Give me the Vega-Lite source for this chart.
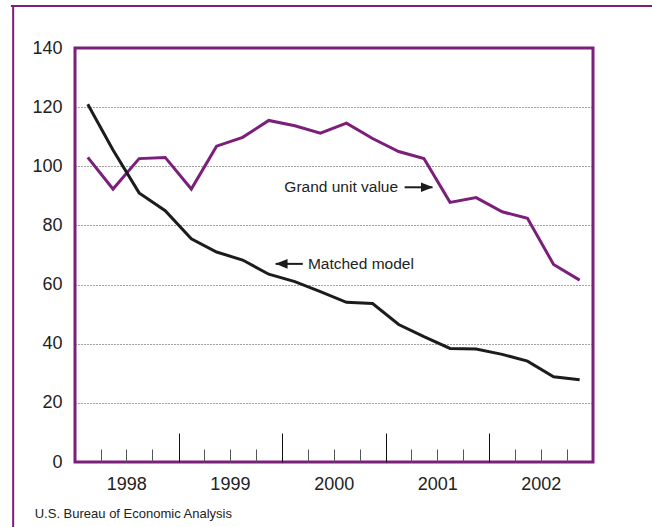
{
  "$schema": "https://vega.github.io/schema/vega-lite/v6.json",
  "width": 518,
  "height": 414,
  "autosize": {"type": "none"},
  "padding": {"left": 75, "top": 48, "right": 59, "bottom": 65},
  "background": "white",
  "config": {
    "view": {"stroke": "#7b1f7b", "strokeWidth": 3},
    "font": "Liberation Sans",
    "axis": {"labelFont": "Liberation Sans", "labelColor": "#222"}
  },
  "datasets": {
    "series": [
      {"date": "1998-02-15", "series": "Grand unit value", "value": 103.0},
      {"date": "1998-05-15", "series": "Grand unit value", "value": 92.3},
      {"date": "1998-08-15", "series": "Grand unit value", "value": 102.6},
      {"date": "1998-11-15", "series": "Grand unit value", "value": 103.0},
      {"date": "1999-02-15", "series": "Grand unit value", "value": 92.3},
      {"date": "1999-05-15", "series": "Grand unit value", "value": 106.8},
      {"date": "1999-08-15", "series": "Grand unit value", "value": 109.8},
      {"date": "1999-11-15", "series": "Grand unit value", "value": 115.5},
      {"date": "2000-02-15", "series": "Grand unit value", "value": 113.7},
      {"date": "2000-05-15", "series": "Grand unit value", "value": 111.2},
      {"date": "2000-08-15", "series": "Grand unit value", "value": 114.6},
      {"date": "2000-11-15", "series": "Grand unit value", "value": 109.4},
      {"date": "2001-02-15", "series": "Grand unit value", "value": 105.0},
      {"date": "2001-05-15", "series": "Grand unit value", "value": 102.6},
      {"date": "2001-08-15", "series": "Grand unit value", "value": 87.8},
      {"date": "2001-11-15", "series": "Grand unit value", "value": 89.4},
      {"date": "2002-02-15", "series": "Grand unit value", "value": 84.6},
      {"date": "2002-05-15", "series": "Grand unit value", "value": 82.4},
      {"date": "2002-08-15", "series": "Grand unit value", "value": 66.8},
      {"date": "2002-11-15", "series": "Grand unit value", "value": 61.5},
      {"date": "1998-02-15", "series": "Matched model", "value": 121.0},
      {"date": "1998-05-15", "series": "Matched model", "value": 105.5},
      {"date": "1998-08-15", "series": "Matched model", "value": 91.0},
      {"date": "1998-11-15", "series": "Matched model", "value": 85.0},
      {"date": "1999-02-15", "series": "Matched model", "value": 75.5},
      {"date": "1999-05-15", "series": "Matched model", "value": 71.0},
      {"date": "1999-08-15", "series": "Matched model", "value": 68.3},
      {"date": "1999-11-15", "series": "Matched model", "value": 63.5},
      {"date": "2000-02-15", "series": "Matched model", "value": 61.0},
      {"date": "2000-05-15", "series": "Matched model", "value": 57.6},
      {"date": "2000-08-15", "series": "Matched model", "value": 54.0},
      {"date": "2000-11-15", "series": "Matched model", "value": 53.6},
      {"date": "2001-02-15", "series": "Matched model", "value": 46.5},
      {"date": "2001-05-15", "series": "Matched model", "value": 42.4},
      {"date": "2001-08-15", "series": "Matched model", "value": 38.4},
      {"date": "2001-11-15", "series": "Matched model", "value": 38.2},
      {"date": "2002-02-15", "series": "Matched model", "value": 36.4},
      {"date": "2002-05-15", "series": "Matched model", "value": 34.1},
      {"date": "2002-08-15", "series": "Matched model", "value": 28.8},
      {"date": "2002-11-15", "series": "Matched model", "value": 27.8}
    ]
  },
  "resolve": {"axis": {"x": "independent", "y": "independent"}},
  "layer": [
    {
      "data": {"name": "series"},
      "mark": {"type": "line", "strokeWidth": 3},
      "encoding": {
        "x": {
          "field": "date",
          "type": "temporal",
          "scale": {"domain": [{"year": 1998, "month": 1, "date": 1, "utc": true}, {"year": 2003, "month": 1, "date": 1, "utc": true}]},
          "axis": {
            "orient": "bottom",
            "title": null,
            "domain": false,
            "grid": false,
            "values": [
              {"year": 1998, "month": 4, "date": 1, "utc": true}, {"year": 1998, "month": 7, "date": 1, "utc": true}, {"year": 1998, "month": 10, "date": 1, "utc": true},
              {"year": 1999, "month": 4, "date": 1, "utc": true}, {"year": 1999, "month": 7, "date": 1, "utc": true}, {"year": 1999, "month": 10, "date": 1, "utc": true},
              {"year": 2000, "month": 4, "date": 1, "utc": true}, {"year": 2000, "month": 7, "date": 1, "utc": true}, {"year": 2000, "month": 10, "date": 1, "utc": true},
              {"year": 2001, "month": 4, "date": 1, "utc": true}, {"year": 2001, "month": 7, "date": 1, "utc": true}, {"year": 2001, "month": 10, "date": 1, "utc": true},
              {"year": 2002, "month": 4, "date": 1, "utc": true}, {"year": 2002, "month": 7, "date": 1, "utc": true}, {"year": 2002, "month": 10, "date": 1, "utc": true}
            ],
            "tickSize": -13,
            "tickColor": "#555",
            "tickWidth": 1,
            "labelExpr": "utcmonth(datum.value) == 6 ? '' + utcyear(datum.value) : ''",
            "labelFontSize": 18,
            "labelPadding": 26,
            "labelOverlap": false,
            "labelFlush": false,
            "labelBound": false
          }
        },
        "y": {
          "field": "value",
          "type": "quantitative",
          "scale": {"domain": [0, 140]},
          "axis": {
            "title": null,
            "domain": false,
            "ticks": false,
            "values": [0, 20, 40, 60, 80, 100, 120, 140],
            "labelFontSize": 18,
            "labelPadding": 13,
            "grid": true,
            "gridColor": "#444",
            "gridDash": [1, 2],
            "gridWidth": 1,
            "gridOpacity": {"condition": {"test": "datum.value == 0 || datum.value == 140", "value": 0}, "value": 1}
          }
        },
        "color": {
          "field": "series",
          "type": "nominal",
          "scale": {"domain": ["Grand unit value", "Matched model"], "range": ["#7b1f7b", "#1c1c1c"]},
          "legend": null
        }
      }
    },
    {
      "data": {"values": [{}]},
      "mark": {"type": "rule", "strokeWidth": 2, "color": "#1c1c1c"},
      "encoding": {
        "x": {
          "datum": {"year": 2001, "month": 3, "date": 8, "utc": true},
          "type": "temporal",
          "axis": {
            "orient": "bottom",
            "title": null,
            "domain": false,
            "grid": false,
            "labels": false,
            "values": [
              {"year": 1999, "month": 1, "date": 1, "utc": true},
              {"year": 2000, "month": 1, "date": 1, "utc": true},
              {"year": 2001, "month": 1, "date": 1, "utc": true},
              {"year": 2002, "month": 1, "date": 1, "utc": true}
            ],
            "tickSize": -29,
            "tickColor": "#111",
            "tickWidth": 1
          }
        },
        "x2": {"datum": {"year": 2001, "month": 6, "date": 14, "utc": true}},
        "y": {"datum": 92.9, "type": "quantitative", "axis": null}
      }
    },
    {
      "data": {"values": [{}]},
      "mark": {"type": "point", "shape": "M0,0L-2,-0.8L-2,0.8Z", "filled": true, "size": 144, "color": "#1c1c1c", "opacity": 1},
      "encoding": {
        "x": {"datum": {"year": 2001, "month": 6, "date": 16, "utc": true}, "type": "temporal", "axis": null},
        "y": {"datum": 92.9, "type": "quantitative", "axis": null}
      }
    },
    {
      "data": {"values": [{}]},
      "mark": {"type": "text", "text": "Grand unit value", "align": "right", "baseline": "middle", "fontSize": 15.5, "color": "#222"},
      "encoding": {
        "x": {"datum": {"year": 2001, "month": 2, "date": 13, "utc": true}, "type": "temporal", "axis": null},
        "y": {"datum": 93, "type": "quantitative", "axis": null}
      }
    },
    {
      "data": {"values": [{}]},
      "mark": {"type": "rule", "strokeWidth": 2, "color": "#1c1c1c"},
      "encoding": {
        "x": {"datum": {"year": 1999, "month": 12, "date": 9, "utc": true}, "type": "temporal", "axis": null},
        "x2": {"datum": {"year": 2000, "month": 3, "date": 14, "utc": true}},
        "y": {"datum": 67, "type": "quantitative", "axis": null}
      }
    },
    {
      "data": {"values": [{}]},
      "mark": {"type": "point", "shape": "M0,0L2,-0.8L2,0.8Z", "filled": true, "size": 144, "color": "#1c1c1c", "opacity": 1},
      "encoding": {
        "x": {"datum": {"year": 1999, "month": 12, "date": 9, "utc": true}, "type": "temporal", "axis": null},
        "y": {"datum": 67, "type": "quantitative", "axis": null}
      }
    },
    {
      "data": {"values": [{}]},
      "mark": {"type": "text", "text": "Matched model", "align": "left", "baseline": "middle", "fontSize": 15.5, "color": "#222"},
      "encoding": {
        "x": {"datum": {"year": 2000, "month": 4, "date": 1, "utc": true}, "type": "temporal", "axis": null},
        "y": {"datum": 67, "type": "quantitative", "axis": null}
      }
    },
    {
      "data": {"values": [{}]},
      "mark": {"type": "text", "text": "U.S. Bureau of Economic Analysis", "align": "left", "baseline": "middle", "fontSize": 13, "color": "#222"},
      "encoding": {
        "x": {"datum": {"year": 1997, "month": 8, "date": 12, "utc": true}, "type": "temporal", "axis": null},
        "y": {"datum": -17.6, "type": "quantitative", "axis": null}
      }
    },
    {
      "data": {"values": [{}]},
      "mark": {"type": "rule", "strokeWidth": 2, "color": "#7b1f7b"},
      "encoding": {
        "x": {"datum": {"year": 1997, "month": 5, "date": 28, "utc": true}, "type": "temporal", "axis": null},
        "y": {"datum": -30, "type": "quantitative", "axis": null},
        "y2": {"datum": 154.2}
      }
    },
    {
      "data": {"values": [{}]},
      "mark": {"type": "rule", "strokeWidth": 2, "color": "#7b1f7b"},
      "encoding": {
        "x": {"datum": {"year": 1997, "month": 5, "date": 20, "utc": true}, "type": "temporal", "axis": null},
        "x2": {"datum": {"year": 2003, "month": 9, "date": 1, "utc": true}},
        "y": {"datum": 154.2, "type": "quantitative", "axis": null}
      }
    }
  ]
}
